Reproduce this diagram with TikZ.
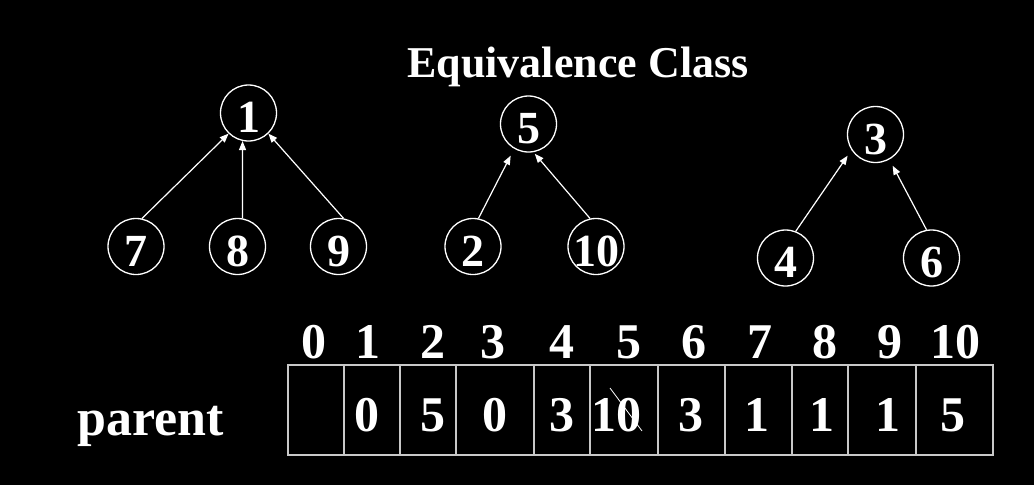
\documentclass[tikz,border=0pt]{standalone}
\usepackage{fontspec}
\setmainfont{Liberation Serif}
\usetikzlibrary{arrows.meta}
\definecolor{gridgray}{RGB}{200,200,200}
\begin{document}
\begin{tikzpicture}[x=1pt,y=-1pt,
  every node/.style={text=white},
  vtx/.style={circle,draw=white,line width=1.3pt,minimum size=56pt,inner sep=0pt,
    font=\fontsize{46}{46}\selectfont\bfseries,text height=39pt,text depth=0pt},
  link/.style={draw=white,line width=1.2pt,-{Triangle[length=9pt,width=7pt]}},
  idx/.style={anchor=base,font=\fontsize{50}{50}\selectfont\bfseries},
  val/.style={anchor=base,font=\fontsize{50}{50}\selectfont\bfseries},
  cellline/.style={draw=gridgray,line width=1.2pt}
]
\fill[black] (0,0) rectangle (1034,485);
\useasboundingbox (0,0) rectangle (1034,485);

% title
\node[anchor=base,font=\fontsize{44}{44}\selectfont\bfseries] (title) at (578,77) {Equivalence Class};

% tree 1
\node[vtx] (n1) at (248.5,113) {1};
\node[vtx] (n7) at (136,246.5) {7};
\node[vtx] (n8) at (237.5,246.5) {8};
\node[vtx] (n9) at (338.5,246.5) {9};
\draw[link] (n7.78) -- (n1.226);
\draw[link] (n8.80) -- (n1.258);
\draw[link] (n9.80) -- (n1.314);

% tree 2
\node[vtx] (n5) at (528.5,124) {5};
\node[vtx] (n2) at (473,246.5) {2};
\node[vtx] (n10) at (596,246.5) {\makebox[0pt]{10}};
\draw[link,shorten >=7.7pt] (n2.79) -- (n5.240);
\draw[link,shorten >=2pt] (n10.102) -- (n5.280);

% tree 3
\node[vtx] (n3) at (875.5,134.5) {3};
\node[vtx] (n4) at (785.5,258) {4};
\node[vtx] (n6) at (931.5,258) {6};
\draw[link,shorten >=6.8pt] (n4.69) -- (n3.213);
\draw[link,shorten >=7pt] (n6.100) -- (n3.299);

% table cells
\draw[cellline] (288,365) rectangle (993,455);
\foreach \x in {344,400,456,534,590,658,725,792,848,916}
  \draw[cellline] (\x,365) -- (\x,455);

% indices
\node[idx] (h0) at (314,358) {0};
\node[idx] (h1) at (368,358) {1};
\node[idx] (h2) at (432.5,358) {2};
\node[idx] (h3) at (493,358) {3};
\node[idx] (h4) at (561.5,358) {4};
\node[idx] (h5) at (629,358) {5};
\node[idx] (h6) at (694,358) {6};
\node[idx] (h7) at (760,358) {7};
\node[idx] (h8) at (825,358) {8};
\node[idx] (h9) at (890,358) {9};
\node[idx] (h10) at (955,358) {10};

% values
\node[anchor=base,font=\fontsize{52}{52}\selectfont\bfseries] (parent) at (151,435) {parent};
\node[val] (v1) at (367,431) {0};
\node[val] (v2) at (432.5,431) {5};
\node[val] (v3) at (495,431) {0};
\node[val] (v4) at (561.5,431) {3};
\node[val] (v5) at (616.5,431) {10};
\node[val] (v6) at (691,431) {3};
\node[val] (v7) at (757,431) {1};
\node[val] (v8) at (822,431) {1};
\node[val] (v9) at (888,431) {1};
\node[val] (v10) at (953,431) {5};
\draw[white,line width=0.8pt] (610,388) -- (642,431);
\end{tikzpicture}
\end{document}
